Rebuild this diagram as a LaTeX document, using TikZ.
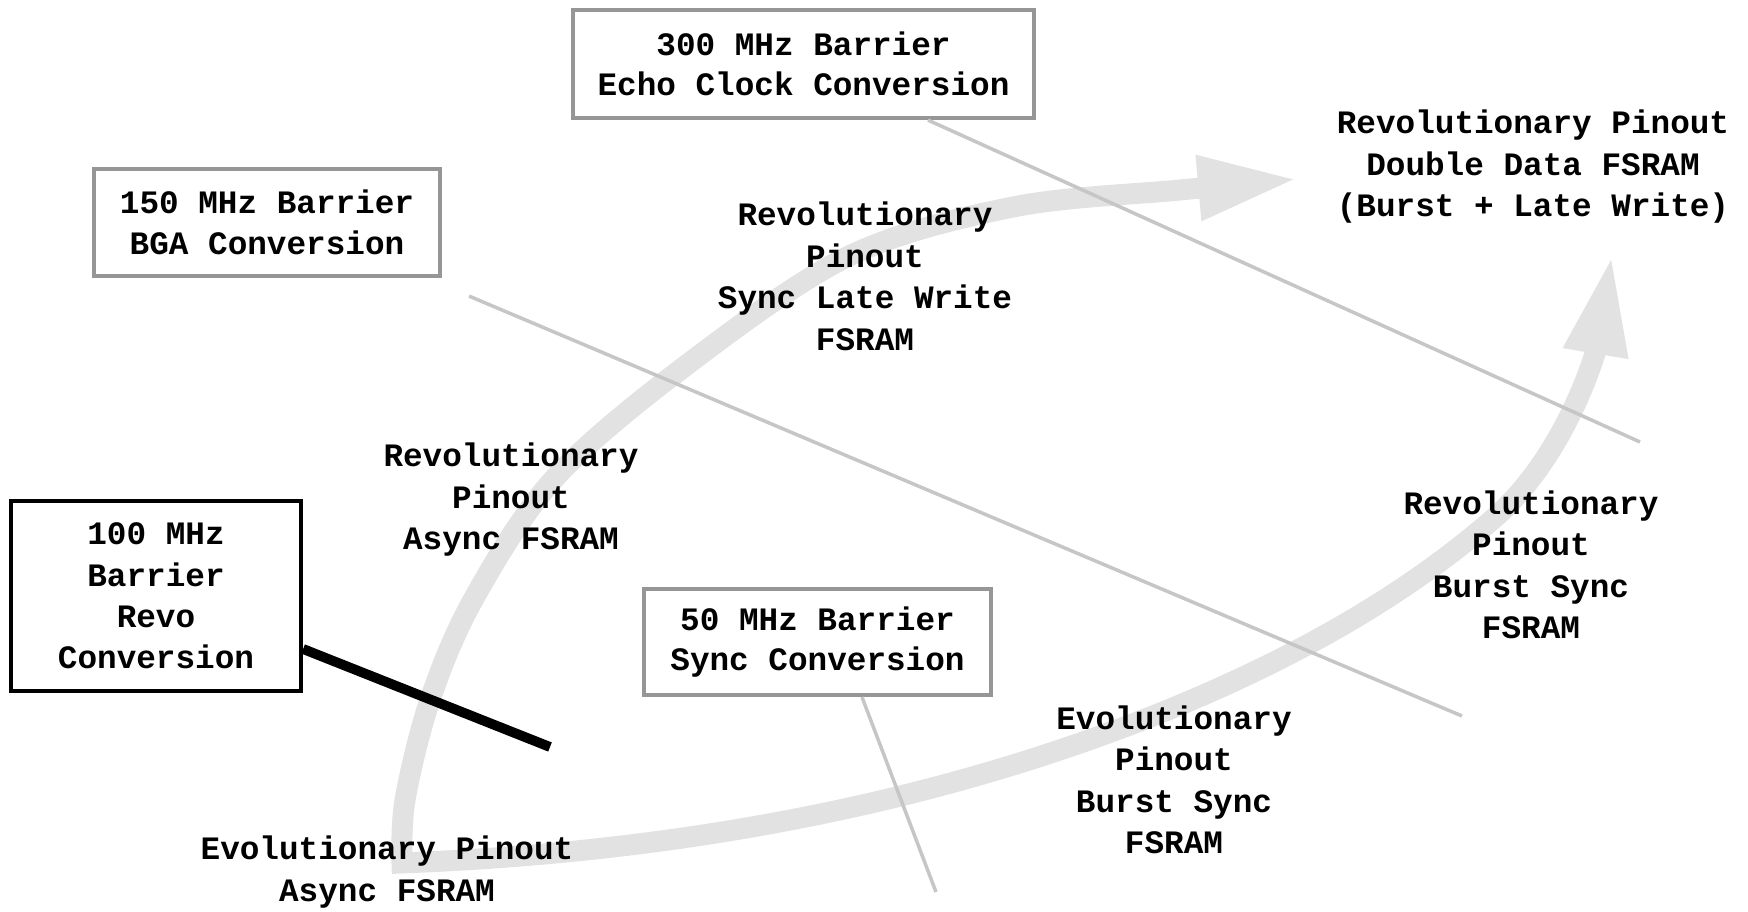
\documentclass[tikz,border=0pt]{standalone}
\usepackage{fontspec}
\setmonofont{Liberation Mono}
\usetikzlibrary{arrows.meta}
\definecolor{ink}{HTML}{000000}
\definecolor{haze}{HTML}{E2E2E2}
\definecolor{wire}{HTML}{C6C6C6}
\definecolor{frame}{HTML}{969696}
\tikzset{
  barrier/.style={draw=frame,line width=1.2pt,fill=white,align=center,inner sep=0pt,
    font=\ttfamily\bfseries\fontsize{9.3}{11.5}\selectfont},
  hardbar/.style={barrier,draw=ink,font=\ttfamily\bfseries\fontsize{9.3}{11.8}\selectfont},
  gen/.style={align=center,inner sep=0pt,font=\ttfamily\bfseries\fontsize{9.3}{11.8}\selectfont},
  road/.style={haze,line width=2.1mm,line join=miter,
    {Triangle[length=10mm,width=6mm]}-{Triangle[length=10mm,width=6mm]}},
  link/.style={wire,line width=1pt},
  plink/.style={ink,line width=2.8pt},
}
\begin{document}
\begin{tikzpicture}[x=1cm,y=1cm]
  \useasboundingbox (0,0) rectangle (17.48,9.12);
  % ---------- the loop ----------
  \draw[road] plot[smooth,tension=0.55] coordinates {(12.98,7.33) (11.80,7.22) (10.13,7.05) (8.47,6.55) (6.80,5.42) (5.53,4.32) (4.73,3.12) (4.30,2.12) (4.05,1.12) (4.02,0.49)}
    .. controls (6.62,0.59) and (9.22,1.03) .. (11.63,2.00)
    .. controls (12.81,2.48) and (13.96,3.09) .. (14.92,3.92)
    .. controls (15.66,4.55) and (15.96,5.61) .. (16.12,6.57);
  % ---------- barriers ----------
  \node[barrier,minimum width=4.61cm,minimum height=1.08cm] (b300) at (8.035,8.48) {300 MHz Barrier\\Echo Clock Conversion};
  \node[barrier,minimum width=3.46cm,minimum height=1.07cm] (b150) at (2.67,6.895) {150 MHz Barrier\\BGA Conversion};
  \node[hardbar,minimum width=2.90cm,minimum height=1.90cm] (b100) at (1.56,3.16) {100 MHz\\Barrier\\Revo\\Conversion};
  \node[barrier,minimum width=3.47cm,minimum height=1.06cm] (b50) at (8.175,2.70) {50 MHz Barrier\\Sync Conversion};
  % ---------- generations ----------
  \node[gen] (dd) at (15.33,7.45) {Revolutionary Pinout\\Double Data FSRAM\\(Burst + Late Write)};
  \node[gen] (slw) at (8.65,6.355) {Revolutionary\\Pinout\\Sync Late Write\\FSRAM};
  \node[gen] (async) at (5.11,4.12) {Revolutionary\\Pinout\\Async FSRAM};
  \node[gen] (rbs) at (15.31,3.47) {Revolutionary\\Pinout\\Burst Sync\\FSRAM};
  \node[gen] (ebs) at (11.74,1.32) {Evolutionary\\Pinout\\Burst Sync\\FSRAM};
  \node[gen] (eas) at (3.87,0.40) {Evolutionary Pinout\\Async FSRAM};
  % ---------- ties ----------
  \coordinate (t300) at (16.40,4.70);
  \coordinate (t150) at (14.62,1.96);
  \coordinate (t50) at (9.36,0.20);
  \coordinate (t100) at (5.50,1.65);
  \draw[link] ([xshift=1.245cm]b300.south) -- (t300);
  \draw[link] ([shift={(0.27,-0.18)}]b150.south east) -- (t150);
  \draw[link] ([xshift=0.445cm]b50.south) -- (t50);
  \draw[plink] ([yshift=-0.53cm]b100.east) -- (t100);
\end{tikzpicture}
\end{document}
